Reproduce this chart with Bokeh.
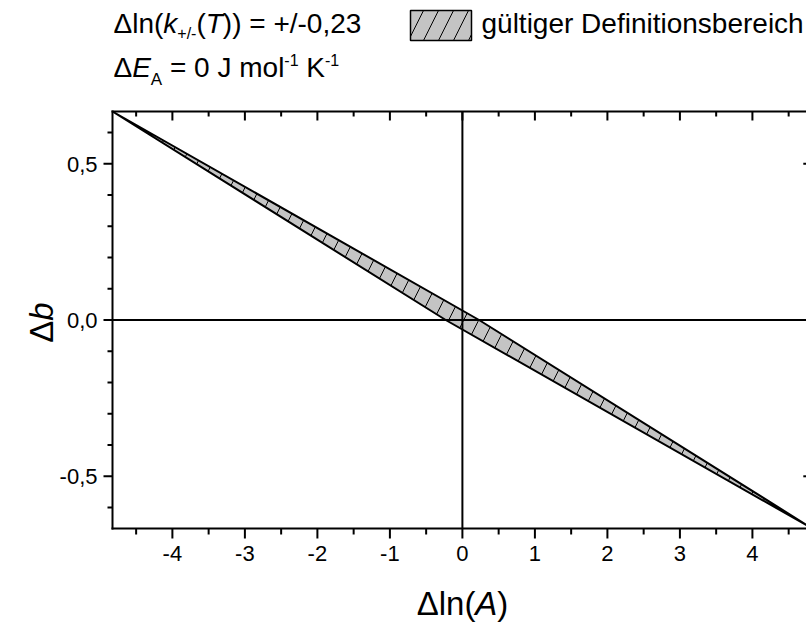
import math
from bokeh.plotting import figure
from bokeh.models import Range1d
from bokeh.core.properties import value
from bokeh.embed import file_html
from bokeh.resources import INLINE

# ---- data ----
band_lnA = [-4.826, -0.23, 4.826, 0.23]      # parallelogram vertices, x (Δln A)
band_b = [0.667, 0.0, -0.667, 0.0]            # parallelogram vertices, y (Δb)
x_ticks = [-4, -3, -2, -1, 0, 1, 2, 3, 4]
x_tick_labels = ["-4", "-3", "-2", "-1", "0", "1", "2", "3", "4"]
x_minor = [-4.5, -3.5, -2.5, -1.5, -0.5, 0.5, 1.5, 2.5, 3.5, 4.5]
y_ticks = [-0.5, 0.0, 0.5]
y_tick_labels = ["-0,5", "0,0", "0,5"]
y_minor = [-0.6, -0.4, -0.3, -0.2, -0.1, 0.1, 0.2, 0.3, 0.4, 0.6]
x_lim = (-4.826, 4.826)
y_lim = (-0.667, 0.667)

FONT = "Liberation Sans"
# ---- layout (canvas pixels) ----
CW, CH = 806, 624
FL, FR, FT, FB = 112, 811.8, 111, 528   # plot box edges in canvas px
K = 0.3465   # baseline correction (fraction of font size)

sx = (FR - FL) / (x_lim[1] - x_lim[0])
sy = (FB - FT) / (y_lim[1] - y_lim[0])
x_start = x_lim[0] - FL / sx
x_end = x_start + CW / sx
y_end = y_lim[1] + FT / sy
y_start = y_end - CH / sy

def px2x(px):
    return x_start + px / sx

def py2y(py):
    return y_end - py / sy

p = figure(width=CW, height=CH, output_backend="svg", toolbar_location=None,
           x_range=Range1d(x_start, x_end), y_range=Range1d(y_start, y_end),
           x_axis_location=None, y_axis_location=None,
           min_border=0, min_border_left=0, min_border_right=0,
           min_border_top=0, min_border_bottom=0)
p.xgrid.visible = False
p.ygrid.visible = False
p.outline_line_color = None
p.background_fill_color = "white"
p.border_fill_color = "white"

HATCH = dict(hatch_pattern="/", hatch_color="black", hatch_scale=30, hatch_weight=1)

# band
p.patch(band_lnA, band_b, fill_color="#c4c4c4", line_color="black", line_width=2,
        line_join="miter", **HATCH)

# zero lines
p.segment(x0=[0, x_lim[0]], y0=[y_lim[0], 0], x1=[0, x_lim[1]], y1=[y_lim[1], 0],
          line_color="black", line_width=2)

# frame / spines
p.segment(x0=[x_lim[0], x_lim[0], x_lim[0], x_lim[1]],
          y0=[y_lim[0], y_lim[0], y_lim[1], y_lim[0]],
          x1=[x_lim[1], x_lim[0], x_lim[1], x_lim[1]],
          y1=[y_lim[0], y_lim[1], y_lim[1], y_lim[1]],
          line_color="black", line_width=2, line_cap="square")

TW = 2
# bottom ticks (outward)
p.segment(x0=x_ticks, x1=x_ticks, y0=[y_lim[0]] * len(x_ticks),
          y1=[y_lim[0] - 10 / sy] * len(x_ticks), line_color="black", line_width=TW)
p.segment(x0=x_minor, x1=x_minor, y0=[y_lim[0]] * len(x_minor),
          y1=[y_lim[0] - 6 / sy] * len(x_minor), line_color="black", line_width=TW)
# top ticks (inward)
p.segment(x0=x_ticks, x1=x_ticks, y0=[y_lim[1]] * len(x_ticks),
          y1=[y_lim[1] - 9 / sy] * len(x_ticks), line_color="black", line_width=TW)
p.segment(x0=x_minor, x1=x_minor, y0=[y_lim[1]] * len(x_minor),
          y1=[y_lim[1] - 5 / sy] * len(x_minor), line_color="black", line_width=TW)
# left ticks (outward)
p.segment(y0=y_ticks, y1=y_ticks, x0=[x_lim[0]] * len(y_ticks),
          x1=[x_lim[0] - 9 / sx] * len(y_ticks), line_color="black", line_width=TW)
p.segment(y0=y_minor, y1=y_minor, x0=[x_lim[0]] * len(y_minor),
          x1=[x_lim[0] - 5 / sx] * len(y_minor), line_color="black", line_width=TW)
# right ticks (inward)
p.segment(y0=y_ticks, y1=y_ticks, x0=[x_lim[1]] * len(y_ticks),
          x1=[x_lim[1] - 9 / sx] * len(y_ticks), line_color="black", line_width=TW)
p.segment(y0=y_minor, y1=y_minor, x0=[x_lim[1]] * len(y_minor),
          x1=[x_lim[1] - 5 / sx] * len(y_minor), line_color="black", line_width=TW)

# tick labels
TF = 22
p.text(x=x_ticks, y=[py2y(561 - K * TF)] * len(x_ticks), text=x_tick_labels,
       text_font=value(FONT), text_font_size=f"{TF}px", text_color="black",
       text_align="center", text_baseline="alphabetic")
p.text(x=[px2x(97)] * len(y_ticks), y=y_ticks, text=y_tick_labels,
       y_offset=8 - K * TF,
       text_font=value(FONT), text_font_size=f"{TF}px", text_color="black",
       text_align="right", text_baseline="alphabetic")

# ---- rich text helpers ----
W = {' ': 278, '(': 333, ')': 333, '+': 584, '/': 278, '-': 333, '=': 584, ',': 278,
     'A': 667, 'D': 722, 'E': 667, 'J': 500, 'K': 667, 'T': 611, 'b': 556, 'c': 500,
     'e': 556, 'f': 278, 'g': 556, 'h': 556, 'i': 222, 'k': 500, 'l': 222, 'm': 833,
     'n': 556, 'o': 556, 'r': 333, 's': 500, 't': 278, 'u': 556, 'ü': 556, 'Δ': 667}
for d in "0123456789":
    W[d] = 556

def tw(s, size):
    return sum(W.get(c, 556) for c in s) / 1000.0 * size

def rich(segs, cx, cy, angle=0.0):
    """segs: (text, size, style, dy). cx, cy: canvas px of start at baseline."""
    pos = 0.0
    for text, size, style, dy in segs:
        lead = len(text) - len(text.lstrip(" "))
        shown = text.strip(" ")
        off = pos + tw(" " * lead, size)
        if angle == 0:
            x, y = cx + off, cy + dy - K * size
        else:
            x, y = cx + dy - K * size, cy - off
        p.text(x=[px2x(x)], y=[py2y(y)], text=[shown], angle=angle,
               text_font=value(FONT), text_font_size=f"{size}px",
               text_font_style=style, text_color="black",
               text_align="left", text_baseline="alphabetic")
        pos += tw(text, size)

F = 28
rich([("Δln(", F, "normal", 0), ("k", F, "italic", 0), ("+/-", 16, "normal", 6),
      ("(", F, "normal", 0), ("T", F, "italic", 0), (")) = +/-0,23", F, "normal", 0)],
     113, 33)
rich([("Δ", F, "normal", 0), ("E", F, "italic", 0), ("A", 17, "normal", 8),
      (" = 0 J mol", F, "normal", 0), ("-1", 16, "normal", -12),
      (" K", F, "normal", 0), ("-1", 16, "normal", -12)],
     113, 77)

# legend
p.quad(left=[px2x(410)], right=[px2x(471)], top=[py2y(10)], bottom=[py2y(40)],
       fill_color="#c4c4c4", line_color="black", line_width=1.5, **HATCH)
rich([("gültiger Definitionsbereich", F, "normal", 0)], 481, 33)

# axis titles
AF = 33
xsegs = [("Δln(", AF, "normal", 0), ("A", AF, "italic", 0), (")", AF, "normal", 0)]
wx = sum(tw(s[0], s[1]) for s in xsegs)
rich(xsegs, 462 - wx / 2, 614)
ysegs = [("Δ", AF, "normal", 0), ("b", AF, "italic", 0)]
wy = sum(tw(s[0], s[1]) for s in ysegs)
rich(ysegs, 52, 322 + wy / 2, angle=math.pi / 2)

open("out.html", "w").write(file_html(p, INLINE))
